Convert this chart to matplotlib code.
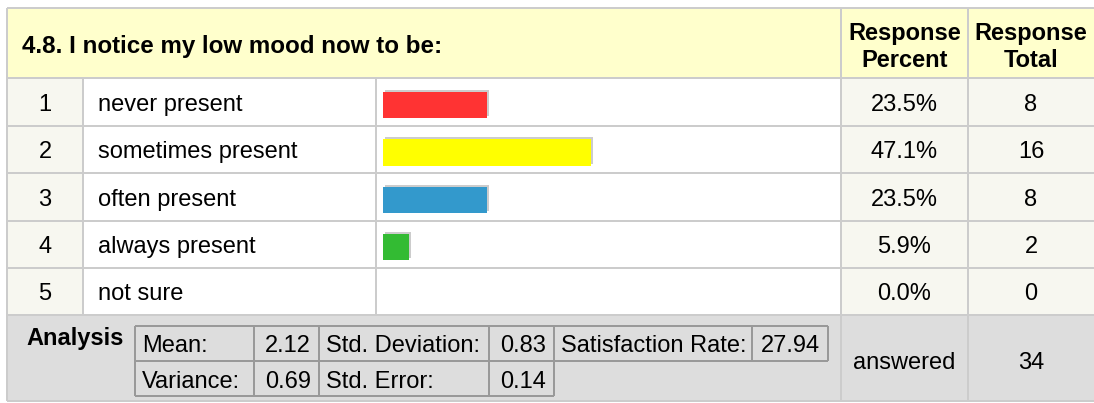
import matplotlib
matplotlib.use("Agg")
import matplotlib.pyplot as plt
import matplotlib.transforms as mtransforms
from matplotlib.patches import Rectangle

plt.rcParams['font.family'] = ['Liberation Sans', 'DejaVu Sans']

W, H = 1094, 403

question = '4.8. I notice my low mood now to be:'
options = ['never present', 'sometimes present', 'often present', 'always present', 'not sure']
percents = [23.5, 47.1, 23.5, 5.9, 0.0]
totals = [8, 16, 8, 2, 0]
bar_colors = ['#ff3333', '#ffff00', '#3399cc', '#33bb33', '#cccccc']

stat_labels_top = ['Mean:', 'Std. Deviation:', 'Satisfaction Rate:']
stat_values_top = [2.12, 0.83, 27.94]
stat_labels_bot = ['Variance:', 'Std. Error:']
stat_values_bot = [0.69, 0.14]
answered = 34

# layout (pixels, y down)
col_x = [7, 83, 376, 841, 968, W + 2]
row_y = [8, 78, 125.5, 173, 220.5, 268, 315, 401]
grid_c = '#cccccc'
lw_px = 2 * 0.72
fs = 17
base = 9  # baseline offset below a cell's centre

fig = plt.figure(figsize=(W / 100, H / 100), dpi=100)
ax = fig.add_axes([0, 0, 1, 1])
ax.set_xlim(0, W)
ax.set_ylim(H, 0)
ax.axis('off')


def rect(x0, y0, x1, y1, color):
    ax.add_patch(Rectangle((x0, y0), x1 - x0, y1 - y0, facecolor=color, edgecolor='none', zorder=0))


def line(xs, ys, color=grid_c, z=1):
    ax.plot(xs, ys, color=color, lw=lw_px, zorder=z, solid_capstyle='butt')


# backgrounds
rect(col_x[0], row_y[0], col_x[-1], row_y[1], '#ffffcc')
rect(col_x[0], row_y[1], col_x[1], row_y[6], '#f7f7f0')
rect(col_x[3], row_y[1], col_x[-1], row_y[6], '#f7f7f0')
rect(col_x[0], row_y[6], col_x[-1], row_y[7], '#dddddd')

# grid lines
for y in row_y:
    line([col_x[0], col_x[-1]], [y, y])
for x in [col_x[0], col_x[3], col_x[4]]:
    line([x, x], [row_y[0], row_y[-1]])
for x in col_x[1:3]:
    line([x, x], [row_y[1], row_y[6]])

# header
ax.text(22, 52.7, question, fontsize=17.4, fontweight='bold', va='baseline', ha='left')
pc_x = (col_x[3] + col_x[4]) / 2
tot_x = (col_x[4] + col_x[5] - 2) / 2
for hx, lines in [(pc_x, ['Response', 'Percent']), (tot_x, ['Response', 'Total'])]:
    ax.text(hx, 40, lines[0], fontsize=fs, fontweight='bold', ha='center', va='baseline')
    ax.text(hx, 66.7, lines[1], fontsize=fs, fontweight='bold', ha='center', va='baseline')

# rows
for i, (opt, p, t) in enumerate(zip(options, percents, totals)):
    yb = (row_y[i + 1] + row_y[i + 2]) / 2 + base
    ax.text((col_x[0] + col_x[1]) / 2, yb, str(i + 1), fontsize=fs, ha='center', va='baseline')
    ax.text(98, yb, opt, fontsize=fs, ha='left', va='baseline')
    ax.text(pc_x, yb, f'{p:.1f}%', fontsize=fs, ha='center', va='baseline')
    ax.text(tot_x, yb, str(t), fontsize=fs, ha='center', va='baseline')

# bars in their own axes (0-100 %)
bx0, bw = 383, 442
bax = fig.add_axes([bx0 / W, (H - row_y[6]) / H, bw / W, (row_y[6] - row_y[1]) / H])
bax.set_xlim(0, 100)
bax.set_ylim(len(options) - 0.5 - 0.07, -0.5 - 0.07)
bax.axis('off')
ypos = list(range(len(options)))
shadow = bax.barh(ypos, percents, height=0.56, color='#cccccc', zorder=1)
off = mtransforms.offset_copy(bax.transData, fig=fig, x=2, y=2, units='dots')
for patch in shadow:
    patch.set_transform(off)
bax.barh(ypos, percents, height=0.56, color=bar_colors, zorder=2)

# analysis block
ax.text(75, 345, 'Analysis', fontsize=fs, fontweight='bold', ha='center', va='baseline')
inner_c = '#999999'
ix_top = [135, 254, 319, 489, 554, 752, 828]
ix_bot = ix_top[:5]
iy = [326, 361, 396]
line([ix_top[0], ix_top[-1]], [iy[0], iy[0]], inner_c, 2)
line([ix_top[0], ix_top[-1]], [iy[1], iy[1]], inner_c, 2)
line([ix_bot[0], ix_bot[-1]], [iy[2], iy[2]], inner_c, 2)
for x in ix_top:
    line([x, x], [iy[0], iy[1]], inner_c, 2)
for x in ix_bot:
    line([x, x], [iy[1], iy[2]], inner_c, 2)

for r, (labs, vals, xs) in enumerate([(stat_labels_top, stat_values_top, ix_top),
                                      (stat_labels_bot, stat_values_bot, ix_bot)]):
    yb = (iy[r] + iy[r + 1]) / 2 + base
    for k, (lab, val) in enumerate(zip(labs, vals)):
        ax.text(xs[2 * k] + 7, yb, lab, fontsize=fs, ha='left', va='baseline')
        ax.text(xs[2 * k + 2] - 8, yb, f'{val:.2f}', fontsize=fs, ha='right', va='baseline')

ax.text(pc_x, 369, 'answered', fontsize=fs, ha='center', va='baseline')
ax.text(tot_x, 369, str(answered), fontsize=fs, ha='center', va='baseline')

fig.savefig('out.png', dpi=100)
